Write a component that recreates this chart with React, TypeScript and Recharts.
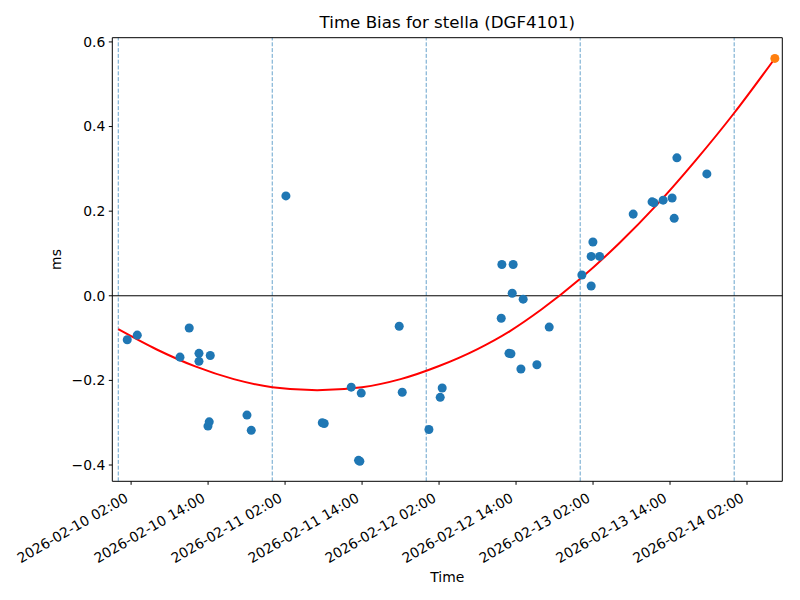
import React from 'react';
import {
  ComposedChart,
  Scatter,
  Line,
  XAxis,
  YAxis,
  ReferenceLine,
} from 'recharts';

// hours since 2026-02-10 00:00
const sampleHours = [
  1.4, 2.96, 9.62, 11.06, 12.58, 12.58, 13.98, 14.18, 14.34, 20.06, 20.73, 26.13,
  31.8, 32.1, 36.31, 37.45, 37.65, 37.87, 43.79, 44.26, 48.42, 50.18, 50.49,
  59.69, 59.79, 60.9, 61.2, 61.4, 61.55, 62.76, 63.11, 65.25, 67.17,
  72.26, 73.71, 73.71, 73.98, 75.02, 80.26, 83.2, 83.5, 84.93, 86.33, 86.65, 87.07, 91.74,
];
const sampleBias = [
  -0.104, -0.093, -0.145, -0.076, -0.136, -0.155, -0.308, -0.298, -0.141, -0.282, -0.318, 0.236,
  -0.3, -0.302, -0.216, -0.389, -0.391, -0.23, -0.072, -0.228, -0.316, -0.24, -0.218,
  -0.053, 0.074, -0.136, -0.137, 0.006, 0.074, -0.173, -0.008, -0.163, -0.074,
  0.049, 0.023, 0.093, 0.127, 0.093, 0.193, 0.222, 0.22, 0.226, 0.231, 0.183, 0.326, 0.288,
];

const fitHours = [0, 6, 12, 18, 24, 31, 38, 44, 50, 56, 61, 66, 72, 78, 84, 90, 96, 102.34];
const fitBias = [
  -0.079, -0.127, -0.167, -0.197, -0.216, -0.223, -0.216, -0.197, -0.166, -0.126,
  -0.084, -0.032, 0.04, 0.123, 0.216, 0.32, 0.432, 0.561,
];

const predictHours = [102.34];
const predictBias = [0.561];

const dayLines = [0, 24, 48, 72, 96];

const xTickHours = [2, 14, 26, 38, 50, 62, 74, 86, 98];
const xTickLabels = [
  '2026-02-10 02:00',
  '2026-02-10 14:00',
  '2026-02-11 02:00',
  '2026-02-11 14:00',
  '2026-02-12 02:00',
  '2026-02-12 14:00',
  '2026-02-13 02:00',
  '2026-02-13 14:00',
  '2026-02-14 02:00',
];
const yTicks = [-0.4, -0.2, 0, 0.2, 0.4, 0.6];

const X_MIN = -0.93;
const X_MAX = 103.5;
const Y_MIN = -0.4385;
const Y_MAX = 0.61;

const samples = sampleHours.map((h, i) => ({ h, y: sampleBias[i] }));
const fit = fitHours.map((h, i) => ({ h, y: fitBias[i] }));
const predicted = predictHours.map((h, i) => ({ h, y: predictBias[i] }));

const FONT = 'DejaVu Sans, sans-serif';

const TimeTick = (props: any) => {
  const { x, y, payload } = props;
  const label = xTickLabels[xTickHours.indexOf(payload.value)];
  return (
    <g transform={`translate(${x - 2},${y + 16})`}>
      <text textAnchor="end" transform="rotate(-30)" fontSize={13.9} fill="#000" fontFamily={FONT}>
        {label}
      </text>
    </g>
  );
};

const App: React.FC = () => {
  return (
    <div style={{ position: 'absolute', left: 0, top: 0, width: 800, height: 600, background: '#fff', fontFamily: FONT }}>
      <div
        style={{
          position: 'absolute',
          left: 247.3,
          width: 400,
          top: 15,
          textAlign: 'center',
          fontSize: 16.67,
          lineHeight: '16.67px',
          color: '#000',
        }}
      >
        Time Bias for stella (DGF4101)
      </div>
      <div
        style={{
          position: 'absolute',
          left: 347.3,
          width: 200,
          top: 571,
          textAlign: 'center',
          fontSize: 13.9,
          lineHeight: '13.9px',
          color: '#000',
        }}
      >
        Time
      </div>
      <ComposedChart
        width={800}
        height={600}
        margin={{ top: 37.7, right: 17.7, bottom: 18.7, left: 52 }}
      >
        <XAxis
          type="number"
          dataKey="h"
          domain={[X_MIN, X_MAX]}
          ticks={xTickHours}
          allowDataOverflow
          height={100}
          tickSize={3.5}
          tickMargin={0}
          interval={0}
          tick={<TimeTick />}
          axisLine={{ stroke: '#000', strokeWidth: 1 }}
          tickLine={{ stroke: '#000', strokeWidth: 1 }}
        />
        <YAxis
          type="number"
          dataKey="y"
          domain={[Y_MIN, Y_MAX]}
          ticks={yTicks}
          allowDataOverflow
          width={60.3}
          tickSize={3.5}
          tickMargin={3.5}
          interval={0}
          tickFormatter={(v: number) => v.toFixed(1).replace('-', '\u2212')}
          tick={{ fontSize: 13.9, fill: '#000', fontFamily: FONT }}
          axisLine={{ stroke: '#000', strokeWidth: 1 }}
          tickLine={{ stroke: '#000', strokeWidth: 1 }}
          label={{
            value: 'ms',
            angle: -90,
            position: 'insideLeft',
            offset: 4,
            style: { textAnchor: 'middle', fontSize: 13.9, fill: '#000', fontFamily: FONT },
          }}
        />
        {dayLines.map((d) => (
          <ReferenceLine
            key={d}
            x={d}
            stroke="#1f77b4"
            strokeOpacity={0.85}
            strokeWidth={0.8}
            strokeDasharray="4 1.8"
          />
        ))}
        <ReferenceLine y={0} stroke="#000" strokeWidth={1} />
        <ReferenceLine y={Y_MAX} stroke="#000" strokeWidth={1} />
        <ReferenceLine x={X_MAX} stroke="#000" strokeWidth={1} />
        <Scatter data={samples} dataKey="y" fill="#1f77b4" isAnimationActive={false} />
        <Line
          data={fit}
          dataKey="y"
          type="monotone"
          stroke="#ff0000"
          strokeWidth={2}
          dot={false}
          activeDot={false}
          isAnimationActive={false}
        />
        <Scatter data={predicted} dataKey="y" fill="#ff7f0e" isAnimationActive={false} />
      </ComposedChart>
    </div>
  );
};

export default App;
